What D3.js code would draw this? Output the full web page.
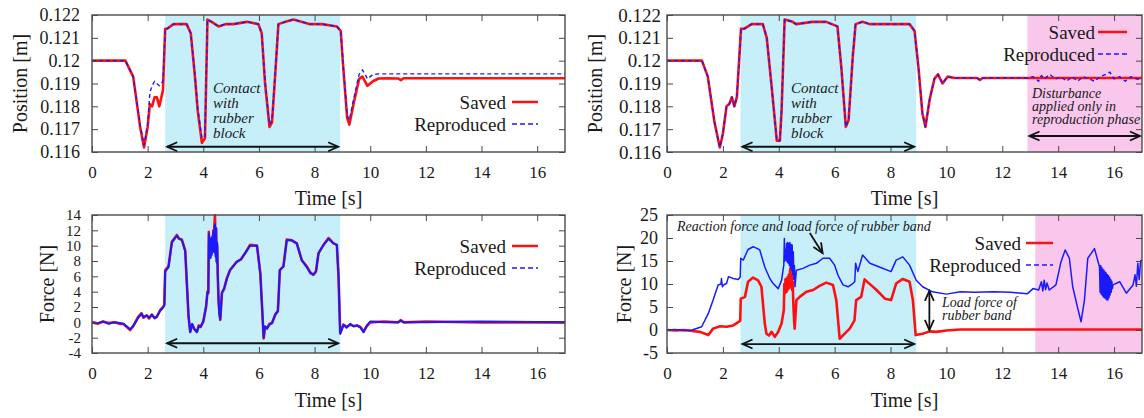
<!DOCTYPE html>
<html><head><meta charset="utf-8">
<script src="https://cdn.jsdelivr.net/npm/d3@7"></script>
<style>
body{margin:0;background:#fff}
text{font-family:"Liberation Serif","Times New Roman",serif;fill:#1a1a1a}
</style>
</head><body>
<svg id="c" width="1144" height="418"></svg>
<script>
// ---------- DATA ----------
const xTicks = [0,2,4,6,8,10,12,14,16];
const posTicks = [0.116,0.117,0.118,0.119,0.12,0.121,0.122];
const posTickLabels = ["0.116","0.117","0.118","0.119","0.12","0.121","0.122"];
const forceTicksL = [-4,-2,0,2,4,6,8,10,12,14];
const forceTicksR = [-5,0,5,10,15,20,25];
const legendLabels = ["Saved","Reproduced"];

// Top-left: position (no disturbance)
const tlT     = [0,1.2,1.48,1.73,1.87,2.0,2.08,2.16,2.25,2.33,2.42,2.55,2.63,2.7,2.93,3.4,3.55,3.7,3.8,3.95,4.06,4.15,4.3,4.55,4.8,5.08,5.57,5.98,6.1,6.22,6.38,6.47,6.58,6.7,6.95,7.24,7.84,8.27,8.8,8.94,9.03,9.17,9.25,9.4,9.6,9.72,9.9,10.1,10.3,10.6,11.0,11.1,11.2,17];
const tlSaved = [0.1200,0.1200,0.1193,0.1171,0.1162,0.1171,0.1181,0.1180,0.1184,0.1184,0.1180,0.1187,0.1214,0.1214,0.1216,0.1216,0.1212,0.1193,0.1178,0.1164,0.1166,0.1218,0.1217,0.1215,0.1216,0.1216,0.1217,0.1216,0.1212,0.1190,0.1171,0.1173,0.1193,0.1216,0.1217,0.1218,0.1216,0.1216,0.1215,0.1213,0.1197,0.1175,0.1172,0.1181,0.1192,0.1193,0.1189,0.1191,0.11922,0.11923,0.11922,0.11915,0.11923,0.11923];
const tlRepro = [0.1200,0.1200,0.1193,0.1172,0.1163,0.1172,0.1186,0.1189,0.1191,0.1190,0.1189,0.1191,0.1214,0.1214,0.1216,0.1216,0.1212,0.1194,0.1179,0.1166,0.1167,0.1218,0.1217,0.1215,0.1216,0.1216,0.1217,0.1216,0.1212,0.1191,0.1172,0.1174,0.1194,0.1216,0.1217,0.1218,0.1216,0.1216,0.1215,0.1213,0.1198,0.1176,0.1174,0.1183,0.1194,0.1196,0.1192,0.1194,0.11942,0.11942,0.11942,0.11942,0.11942,0.11942];

// Top-right: position (disturbance in reproduction)
const trT     = [0,1.25,1.46,1.7,1.89,2.0,2.13,2.23,2.32,2.41,2.5,2.58,2.65,2.77,3.03,3.43,3.57,3.75,3.93,4.04,4.1,4.21,4.5,4.62,5.2,5.7,6.1,6.24,6.4,6.5,6.65,6.75,7.0,7.25,7.85,8.68,8.86,9.0,9.14,9.25,9.4,9.57,9.7,9.86,10.04,10.3,11.1,11.2,11.3,17];
const trSaved = [0.1200,0.1200,0.1193,0.1173,0.1162,0.1168,0.1180,0.1181,0.1184,0.1180,0.1184,0.1200,0.1214,0.1214,0.1216,0.1216,0.1210,0.1188,0.1165,0.1165,0.1178,0.1218,0.1217,0.1216,0.1217,0.1217,0.1215,0.1197,0.1171,0.1174,0.1202,0.1216,0.1217,0.1216,0.1216,0.1216,0.1213,0.1197,0.1177,0.1171,0.1183,0.1192,0.1194,0.1190,0.1193,0.11924,0.11924,0.11915,0.11924,0.11924];
const trReproT = [0,1.25,1.46,1.7,1.89,2.0,2.13,2.23,2.32,2.41,2.5,2.58,2.65,2.77,3.03,3.43,3.57,3.75,3.93,4.04,4.1,4.21,4.5,4.62,5.2,5.7,6.1,6.24,6.4,6.5,6.65,6.75,7.0,7.25,7.85,8.68,8.86,9.0,9.14,9.25,9.4,9.57,9.7,9.86,10.04,10.3,11.1,11.2,11.3,12.9,13.1,13.3,13.4,13.5,13.7,13.9,14.1,14.3,14.5,14.7,14.9,15.1,15.3,15.5,15.7,15.85,16.0,16.2,16.4,16.6,16.8,17];
const trRepro  = [0.1200,0.1200,0.1193,0.1173,0.1162,0.1168,0.1180,0.1181,0.1184,0.1180,0.1184,0.1200,0.1214,0.1214,0.1216,0.1216,0.1210,0.1188,0.1165,0.1165,0.1178,0.1218,0.1217,0.1216,0.1217,0.1217,0.1215,0.1197,0.1171,0.1174,0.1202,0.1216,0.1217,0.1216,0.1216,0.1216,0.1213,0.1197,0.1177,0.1171,0.1183,0.1192,0.1194,0.1190,0.1193,0.11924,0.11924,0.11915,0.11924,0.11924,0.1193,0.1191,0.11935,0.1192,0.1194,0.1192,0.1193,0.1191,0.1193,0.1191,0.1193,0.1192,0.1191,0.1193,0.1194,0.1195,0.1192,0.1193,0.1191,0.1193,0.1192,0.1192];

// Bottom-left: force (no disturbance)
const blT     = [0,0.2,0.4,0.6,0.8,1.0,1.13,1.37,1.48,1.66,1.78,1.85,1.97,2.05,2.15,2.25,2.33,2.45,2.57,2.6,2.63,2.75,2.87,3.05,3.12,3.23,3.35,3.47,3.53,3.6,3.68,3.77,3.84,3.9,4.0,4.1,
  4.15,4.18,4.20,4.22,4.24,4.26,4.28,4.30,4.32,4.34,4.36,4.38,4.40,4.42,4.44,4.46,4.48,4.50,4.52,4.55,4.58,4.61,
  4.67,4.75,4.85,4.96,5.2,5.35,5.5,5.68,5.93,6.05,6.17,6.22,6.29,6.38,6.47,6.59,6.68,6.71,6.75,6.88,7.0,7.18,7.36,7.54,7.72,7.85,7.96,8.05,8.14,8.32,8.5,8.68,8.8,8.86,8.92,9.04,9.15,9.28,9.4,9.52,9.65,9.76,9.88,10.0,10.5,11.0,11.1,11.2,12.0,14.0,17];
const blSaved = [0,-0.2,0.1,-0.1,0,-0.2,-0.2,-1.0,-0.5,0.7,1.2,0.6,0.9,0.5,1.0,0.6,0.7,1.6,2.1,2.3,6.8,7.3,10.5,11.4,10.9,10.8,9.4,0.7,-1.2,-0.3,-0.9,-1.2,-0.4,-0.6,0.1,2.0,
  4.0,3.8,11.8,8.5,10.5,8.6,10.8,9.0,11.2,9.2,12.0,9.5,12.8,14.0,9.0,12.2,8.0,10.0,6.0,2.9,1.2,0.3,
  3.8,4.4,5.8,6.8,7.9,8.2,9.0,10.1,10.0,6.4,-2.1,-0.6,-0.8,-0.2,-0.1,1.0,1.5,3.6,6.8,7.3,10.8,10.7,10.3,8.1,7.3,6.5,6.2,6.6,9.0,10.1,11.0,10.3,10.1,6.0,-1.4,-0.3,-0.6,-0.3,-0.5,-0.4,-0.6,-1.2,-0.5,0,0.1,0,0.3,0,0.1,0,0];
const blRepro = [0,-0.1,0.1,-0.2,0,-0.1,-0.2,-0.9,-0.5,0.6,1.1,0.7,0.9,0.6,1.0,0.5,0.8,1.5,2.0,2.3,6.6,7.2,10.4,11.3,11.0,10.7,9.3,0.8,-1.3,-0.2,-0.9,-1.3,-0.5,-0.6,0.1,2.1,
  3.9,3.9,11.6,8.7,10.3,8.4,11.0,8.8,11.0,9.4,11.8,9.2,12.5,12.8,8.6,12.3,7.8,10.4,6.4,2.6,1.0,0.4,
  3.9,4.4,5.7,6.8,7.9,8.2,9.0,10.0,10.0,6.3,-2.0,-0.5,-0.8,-0.3,-0.1,1.1,1.4,3.5,6.8,7.3,10.7,10.7,10.3,8.1,7.2,6.4,6.2,6.7,9.0,10.1,10.9,10.3,10.1,6.1,-1.5,-0.3,-0.7,-0.2,-0.5,-0.4,-0.7,-1.3,-0.4,0.1,0,0,0.2,0,0,0.1,0];

// Bottom-right: force (disturbance in reproduction)
const brST    = [0,0.3,0.6,0.9,1.18,1.48,1.65,1.9,2.13,2.37,2.58,2.62,2.64,2.79,2.9,3.08,3.26,3.38,3.5,3.56,3.65,3.74,3.86,3.98,4.1,
  4.18,4.20,4.22,4.24,4.26,4.28,4.30,4.32,4.34,4.36,4.38,4.40,4.42,4.44,4.46,4.48,4.50,4.52,4.55,4.57,
  4.63,4.75,4.99,5.23,5.46,5.7,5.94,6.06,6.18,6.36,6.54,6.71,6.77,6.95,7.07,7.2,7.5,7.8,8.02,8.2,8.44,8.68,8.8,8.9,9.15,9.4,9.63,10.0,10.5,17];
const brSaved = [0,-0.1,0,-0.2,-0.4,-1.1,0.3,0.8,0.7,1.0,1.8,2.0,6.8,7.2,10.5,11.4,10.8,9.4,1.4,-0.8,-1.2,-0.4,-1.5,-0.4,1.4,
  4.3,10.0,8.0,11.0,8.2,11.2,8.5,11.5,9.0,12.0,9.2,12.8,13.4,9.5,11.8,8.7,10.5,6.0,2.0,0.3,
  6.5,7.2,8.3,8.7,9.6,10.3,9.8,6.5,-1.9,-0.8,0.3,2.1,6.5,7.2,11.0,10.3,8.7,6.8,6.5,10.1,11.1,10.5,6.5,-1.1,-0.8,-0.3,-0.4,-0.1,0.1,0.1];
const brRT    = [0,0.3,0.6,0.9,1.24,1.48,1.65,1.83,1.93,1.95,1.98,2.05,2.13,2.2,2.37,2.55,2.62,2.64,2.73,2.9,3.08,3.2,3.32,3.5,3.68,3.8,3.98,4.1,
  4.18,4.20,4.22,4.24,4.26,4.28,4.30,4.32,4.34,4.36,4.38,4.40,4.42,4.44,4.46,4.48,4.50,4.52,4.54,4.56,4.58,
  4.63,4.87,5.11,5.35,5.58,5.82,6.0,6.12,6.3,6.48,6.65,6.72,6.75,6.83,7.0,7.26,7.6,8.02,8.2,8.44,8.68,8.92,9.15,9.5,10.0,10.5,11.0,11.7,12.3,12.9,13.1,13.3,13.4,13.45,13.5,13.55,13.6,13.68,13.92,14.1,14.25,14.4,14.52,14.7,14.82,14.94,15.06,15.3,
  15.48,15.50,15.52,15.54,15.56,15.58,15.60,15.62,15.64,15.66,15.68,15.70,15.72,15.74,15.76,15.78,15.80,15.82,15.84,15.86,15.88,15.90,15.92,15.94,15.96,
  16.2,16.44,16.68,16.75,16.8,16.85,16.9,16.95,17.0];
const brRepro = [0,0.1,-0.1,0,0.7,3.6,6.5,9.8,10.0,11.2,9.4,9.9,10.1,11.6,11.2,11.0,11.5,15.6,15.2,17.5,18.1,17.8,17.4,13.7,11.2,10.1,9.0,10.8,
  14.1,19.9,15.0,17.5,15.2,18.8,14.8,19.0,14.5,18.8,14.0,19.0,13.5,18.6,13.0,18.5,12.0,17.0,11.0,14.0,9.4,
  13.0,13.4,14.1,14.5,15.6,15.6,14.1,11.9,9.8,9.4,10.1,10.5,14.5,12.7,16.3,14.5,13.7,12.7,15.2,15.9,14.1,10.8,9.4,8.3,7.8,8.3,8.2,8.3,8.2,7.9,9.0,8.7,10.5,8.5,10.8,8.8,10.2,8.7,9.8,14.8,17.4,15.6,9.4,4.7,1.8,6.5,15.6,17.7,
  13.7,8.2,14.0,7.8,13.6,7.5,13.2,7.2,13.0,7.0,12.6,6.8,12.4,6.6,12.0,6.5,11.8,7.0,11.4,7.6,11.0,8.2,10.6,9.0,9.8,
  10.5,8.0,9.8,12.0,9.5,14.5,11.0,15.0,15.2];

// spans
const contactSpan = [2.63, 8.92];
const disturbSpanTop = [12.9, 17];
const disturbSpanBottom = [13.18, 17];

// ---------- DRAW ----------
const svg = d3.select("#c");
const CYAN = "#c6effa", PINK = "#f9c6ec", RED = "#ff1010", BLUE = "#1a1aff", FRAME = "#4a4a4a";

function arrow(g, x1, y1, x2, y2, startHead, endHead) {
  g.append("line").attr("x1",x1).attr("y1",y1).attr("x2",x2).attr("y2",y2)
    .attr("stroke","#111").attr("stroke-width",1.8);
  const L = 11, a = 0.42;
  function head(px, py, ox, oy) {
    const dx = px-ox, dy = py-oy, n = Math.hypot(dx,dy), ux = dx/n, uy = dy/n;
    const pts = [-a, a].map(t => [px - L*(ux*Math.cos(t) - uy*Math.sin(t)), py - L*(uy*Math.cos(t) + ux*Math.sin(t))]);
    g.append("path").attr("d", `M${pts[0][0]},${pts[0][1]}L${px},${py}L${pts[1][0]},${pts[1][1]}`)
      .attr("fill","none").attr("stroke","#111").attr("stroke-width",1.8);
  }
  if (startHead) head(x1,y1,x2,y2);
  if (endHead) head(x2,y2,x1,y1);
}

function panel(p) {
  const g = svg.append("g");
  const x = d3.scaleLinear().domain([0,17]).range([p.x0,p.x1]);
  const y = d3.scaleLinear().domain(p.yDomain).range([p.y1,p.y0]);
  p.shades.forEach(s => g.append("rect").attr("x",x(s.span[0])).attr("y",p.y0)
    .attr("width",x(s.span[1])-x(s.span[0])).attr("height",p.y1-p.y0).attr("fill",s.color));
  const cid = "clip"+p.id;
  svg.append("clipPath").attr("id",cid).append("rect").attr("x",p.x0).attr("y",p.y0-1)
    .attr("width",p.x1-p.x0).attr("height",p.y1-p.y0+2);
  const line = d3.line().x(d=>x(d[0])).y(d=>y(d[1]));
  p.series.forEach(s => g.append("path").attr("clip-path",`url(#${cid})`)
    .attr("d", line(d3.zip(s.t, s.v))).attr("fill","none").attr("stroke",s.color)
    .attr("stroke-width",s.w).attr("stroke-dasharray",s.dash||null)
    .attr("stroke-linejoin","round"));
  const ax = [];
  ax.push(g.append("g").attr("transform",`translate(0,${p.y1})`)
    .call(d3.axisBottom(x).tickValues(xTicks).tickSizeInner(-6).tickSizeOuter(0).tickPadding(14)));
  ax.push(g.append("g").attr("transform",`translate(0,${p.y0})`)
    .call(d3.axisTop(x).tickValues(xTicks).tickFormat("").tickSizeInner(-6).tickSizeOuter(0)));
  ax.push(g.append("g").attr("transform",`translate(${p.x0},0)`)
    .call(d3.axisLeft(y).tickValues(p.yTicks).tickFormat((d,i)=>p.yLabels[i]).tickSizeInner(-6).tickSizeOuter(0).tickPadding(p.gap)));
  ax.push(g.append("g").attr("transform",`translate(${p.x1},0)`)
    .call(d3.axisRight(y).tickValues(p.yTicks).tickFormat("").tickSizeInner(-6).tickSizeOuter(0)));
  ax.forEach(a => { a.select(".domain").remove(); a.selectAll("line").attr("stroke",FRAME).attr("stroke-width",1); });
  ax[0].selectAll("text").attr("font-size",p.xfs).attr("font-family","Liberation Serif").attr("fill","#1a1a1a");
  ax[2].selectAll("text").attr("font-size",p.yfs).attr("font-family","Liberation Serif").attr("fill","#1a1a1a");
  g.append("rect").attr("x",p.x0).attr("y",p.y0).attr("width",p.x1-p.x0).attr("height",p.y1-p.y0)
    .attr("fill","none").attr("stroke",FRAME).attr("stroke-width",1.4);
  g.append("text").attr("x",(p.x0+p.x1)/2).attr("y",p.xLabelY).attr("text-anchor","middle")
    .attr("font-size",20).text("Time [s]");
  g.append("text").attr("transform",`translate(${p.yLabelX},${(p.y0+p.y1)/2}) rotate(-90)`)
    .attr("text-anchor","middle").attr("dy","0.35em").attr("font-size",20).text(p.yLabel);
  const L = p.legend;
  [[RED,2.5,null,L.y1],[BLUE,1.5,"5,3",L.y2]].forEach(([c,w,dash,yy],i) => {
    g.append("text").attr("x",L.x).attr("y",yy+6.5).attr("text-anchor","end").attr("font-size",19).text(legendLabels[i]);
    g.append("line").attr("x1",L.l0).attr("x2",L.l1).attr("y1",yy).attr("y2",yy)
      .attr("stroke",c).attr("stroke-width",w).attr("stroke-dasharray",dash);
  });
  if (p.extra) p.extra(g, x, y);
}

function lines(g, x0, ys, arr, fs) {
  const t = g.append("text").attr("font-size",fs).attr("font-style","italic").attr("fill","#2a2a2a");
  arr.forEach((s,i) => t.append("tspan").attr("x",x0).attr("y",ys[i]).text(s));
}

panel({id:"tl", x0:92, x1:565, y0:15, y1:152, yDomain:[0.116,0.122], yTicks:posTicks, yLabels:posTickLabels,
  gap:12, xfs:17, yfs:18, xLabelY:205, yLabelX:20, yLabel:"Position [m]",
  shades:[{span:contactSpan,color:CYAN}],
  series:[{t:tlT,v:tlSaved,color:RED,w:2.6},{t:tlT,v:tlRepro,color:BLUE,w:1.4,dash:"4,3"}],
  legend:{x:506,l0:512,l1:538,y1:102,y2:124},
  extra:(g,x,y)=>{
    arrow(g, x(contactSpan[0])+2, y(0.11623), x(contactSpan[1])-2, y(0.11623), true, true);
    lines(g, 213, [93,108,123,138], ["Contact","with","rubber","block"], 15);
  }});

panel({id:"tr", x0:667, x1:1142, y0:15, y1:152, yDomain:[0.116,0.122], yTicks:posTicks, yLabels:posTickLabels,
  gap:6, xfs:17, yfs:19, xLabelY:205, yLabelX:595, yLabel:"Position [m]",
  shades:[{span:contactSpan,color:CYAN},{span:disturbSpanTop,color:PINK}],
  series:[{t:trT,v:trSaved,color:RED,w:2.6},{t:trReproT,v:trRepro,color:BLUE,w:1.4,dash:"4,3"}],
  legend:{x:1095,l0:1098,l1:1127,y1:32,y2:54},
  extra:(g,x,y)=>{
    arrow(g, x(contactSpan[0])+2, y(0.11623), x(contactSpan[1])-2, y(0.11623), true, true);
    arrow(g, x(disturbSpanTop[0])+2, y(0.1167), x(disturbSpanTop[1])-2, y(0.1167), true, true);
    lines(g, 791, [93,108,123,138], ["Contact","with","rubber","block"], 15);
    lines(g, 1032, [98,111,124], ["Disturbance","applied only in","reproduction phase"], 14);
  }});

panel({id:"bl", x0:92, x1:565, y0:215, y1:353, yDomain:[-4,14], yTicks:forceTicksL, yLabels:forceTicksL.map(String),
  gap:11, xfs:17, yfs:15, xLabelY:407, yLabelX:47, yLabel:"Force [N]",
  shades:[{span:contactSpan,color:CYAN}],
  series:[{t:blT,v:blSaved,color:RED,w:2.6},{t:blT,v:blRepro,color:BLUE,w:2.0}],
  legend:{x:506,l0:512,l1:538,y1:246,y2:268},
  extra:(g,x,y)=>{
    arrow(g, x(contactSpan[0])+2, y(-2.73), x(contactSpan[1])-2, y(-2.73), true, true);
  }});

panel({id:"br", x0:667, x1:1142, y0:215, y1:353, yDomain:[-5,25], yTicks:forceTicksR, yLabels:forceTicksR.map(String),
  gap:9, xfs:17, yfs:18, xLabelY:407, yLabelX:624, yLabel:"Force [N]",
  shades:[{span:contactSpan,color:CYAN},{span:disturbSpanBottom,color:PINK}],
  series:[{t:brST,v:brSaved,color:RED,w:2.6},{t:brRT,v:brRepro,color:BLUE,w:1.5}],
  legend:{x:1021,l0:1026,l1:1053,y1:243,y2:265},
  extra:(g,x,y)=>{
    arrow(g, x(contactSpan[0])+2, y(-3.05), x(contactSpan[1])-2, y(-3.05), true, true);
    arrow(g, x(9.39), y(8.5), x(9.39), y(0.0), true, true);
    arrow(g, x(5.11), y(21.1), x(5.57), y(16.7), false, true);
    lines(g, 677, [231], ["Reaction force and load force of rubber band"], 14);
    lines(g, 942, [307,320], ["Load force of","rubber band"], 14);
  }});
</script>
</body></html>
